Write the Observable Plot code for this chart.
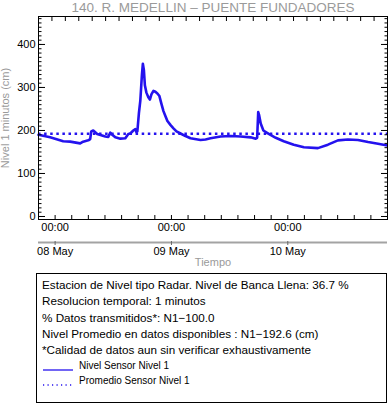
<!DOCTYPE html>
<html><head><meta charset="utf-8">
<script src="https://cdn.jsdelivr.net/npm/d3@7"></script>
<script src="https://cdn.jsdelivr.net/npm/@observablehq/plot@0.6"></script>
<style>
body{margin:0;background:#fff;font-family:"Liberation Sans",Arial,sans-serif;}
#wrap{position:relative;width:388px;height:404px;overflow:hidden;background:#fff;}
#chart{position:absolute;left:0;top:0;}
#legend{position:absolute;left:36px;top:273px;width:351px;height:130px;box-sizing:border-box;border:1px solid #000;padding:3px 0 0 5px;font-size:11.7px;color:#000;}
#legend .l{height:16.3px;line-height:16.3px;white-space:nowrap;}
#legend .k{height:15px;line-height:15px;font-size:10px;white-space:nowrap;position:relative;}
#legend .k svg{position:absolute;left:0;top:0;}
#legend .k span{position:absolute;left:37px;top:0;}
</style></head>
<body><div id="wrap"><div id="chart"></div><div id="legend"></div></div>
<script>
const title = "140. R. MEDELLIN – PUENTE FUNDADORES";
const xTitle = "Tiempo";
const yTitle = "Nivel 1 minutos (cm)";
const domainStart = "2023-05-07T20:34:17Z";
const domainEnd = "2023-05-10T20:34:17Z";
const dayTickTimes = ["2023-05-08T00:00Z", "2023-05-09T00:00Z", "2023-05-10T00:00Z"];
const yMajorTicks = [0, 100, 200, 300, 400];
const meanLevel = 192.6;

const times = [
  "2023-05-07T20:34Z","2023-05-07T22:58Z","2023-05-08T01:40Z","2023-05-08T03:06Z","2023-05-08T05:10Z",
  "2023-05-08T05:47Z","2023-05-08T06:50Z","2023-05-08T07:14Z","2023-05-08T07:27Z","2023-05-08T07:52Z",
  "2023-05-08T08:41Z","2023-05-08T10:21Z","2023-05-08T10:58Z","2023-05-08T11:23Z","2023-05-08T11:47Z",
  "2023-05-08T12:25Z","2023-05-08T13:27Z","2023-05-08T14:29Z","2023-05-08T15:06Z","2023-05-08T15:31Z",
  "2023-05-08T16:08Z","2023-05-08T16:33Z","2023-05-08T16:46Z","2023-05-08T16:58Z","2023-05-08T17:17Z",
  "2023-05-08T17:35Z","2023-05-08T17:54Z","2023-05-08T18:06Z","2023-05-08T18:19Z","2023-05-08T18:31Z",
  "2023-05-08T18:50Z","2023-05-08T19:14Z","2023-05-08T19:33Z","2023-05-08T19:52Z","2023-05-08T20:17Z",
  "2023-05-08T20:41Z","2023-05-08T21:06Z","2023-05-08T21:31Z","2023-05-08T21:56Z","2023-05-08T22:21Z",
  "2023-05-08T22:46Z","2023-05-08T23:10Z","2023-05-08T23:47Z","2023-05-09T00:25Z","2023-05-09T01:02Z",
  "2023-05-09T01:52Z","2023-05-09T02:54Z","2023-05-09T03:56Z","2023-05-09T06:00Z","2023-05-09T07:02Z",
  "2023-05-09T08:04Z","2023-05-09T10:08Z","2023-05-09T12:13Z","2023-05-09T14:17Z","2023-05-09T16:21Z",
  "2023-05-09T17:23Z","2023-05-09T17:41Z","2023-05-09T17:54Z","2023-05-09T18:06Z","2023-05-09T18:25Z",
  "2023-05-09T18:58Z","2023-05-09T20:04Z","2023-05-09T21:31Z","2023-05-09T23:10Z","2023-05-10T01:14Z",
  "2023-05-10T03:19Z","2023-05-10T06:13Z","2023-05-10T08:17Z","2023-05-10T10:21Z","2023-05-10T12:25Z",
  "2023-05-10T14:29Z","2023-05-10T16:34Z","2023-05-10T18:37Z","2023-05-10T20:34Z"
];
const levels = [
  190,184,175,174,170,
  174,177,180,198,200,
  192,186,185,195,190,
  184,181,182,192,193,
  200,203,196,198,240,
  270,328,355,340,305,
  288,277,272,284,292,
  290,286,280,262,245,
  233,222,213,205,198,
  193,187,182,178,179,
  182,186,187,186,184,
  181,183,243,235,216,
  200,192,183,175,167,
  161,159,167,177,179,
  178,173,169,165
];

const infoLines = [
  "Estacion de Nivel tipo Radar. Nivel de Banca Llena: 36.7 %",
  "Resolucion temporal: 1 minutos",
  "% Datos transmitidos*: N1\u2212100.0",
  "Nivel Promedio en datos disponibles : N1\u2212192.6 (cm)",
  "*Calidad de datos aun sin verificar exhaustivamente"
];
const seriesNames = ["Nivel Sensor Nivel 1", "Promedio Sensor Nivel 1"];

const blue = "#2412ee";
const parse = d3.isoParse;
const data = times.map((t, i) => ({t: parse(t), v: levels[i]}));
const x0 = parse(domainStart), x1 = parse(domainEnd);
const span = x1 - x0;
const bottomTicks = d3.range(22).map(k => new Date(+x0 + k * span / 21));
const topTicks = d3.range(27).map(k => new Date(+x0 + k * span / 26));
const dayTicks = dayTickTimes.map(parse);
const yMinor = d3.range(0, 461, 10);

const chart = Plot.plot({
  width: 388, height: 273,
  marginLeft: 38, marginRight: 1, marginTop: 16, marginBottom: 54,
  style: {fontFamily: "'Liberation Sans', Arial, sans-serif", fontSize: "11px", background: "transparent", overflow: "visible"},
  x: {type: "utc", domain: [x0, x1]},
  y: {domain: [-7, 465]},
  marks: [
    Plot.ruleY([meanLevel], {stroke: blue, strokeWidth: 2.5, strokeDasharray: "2.5,3.6"}),
    Plot.line(data, {x: "t", y: "v", stroke: blue, strokeWidth: 2.6, strokeLinejoin: "round"}),
    Plot.frame({stroke: "#000"}),
    Plot.axisY({anchor: "left", ticks: yMinor, tickSize: -3.5, fill: "none", label: null}),
    Plot.axisY({anchor: "left", ticks: yMajorTicks, tickSize: -7, fill: "none", label: null}),
    Plot.axisY({anchor: "left", ticks: yMajorTicks, tickSize: 0, tickPadding: 3, fill: "#000", label: null}),
    Plot.axisY({anchor: "right", ticks: yMinor, tickSize: -3.5, fill: "none", label: null}),
    Plot.axisY({anchor: "right", ticks: yMajorTicks, tickSize: -7, fill: "none", label: null}),
    Plot.axisX({anchor: "top", ticks: topTicks, tickSize: -4, fill: "none", label: null}),
    Plot.axisX({anchor: "bottom", ticks: bottomTicks, tickSize: -4, fill: "none", label: null}),
    Plot.axisX({anchor: "bottom", ticks: dayTicks, tickSize: 0, tickPadding: 4, tickFormat: "%H:%M", fill: "#000", label: null}),
    Plot.ruleY([-7], {stroke: "#a3a3a3", strokeWidth: 2, dy: 23}),
    Plot.axisX({anchor: "bottom", ticks: dayTicks, tickSize: 4, tickPadding: 2, dy: 22, tickFormat: "%d %b", stroke: "#666", fill: "#000", label: null}),
    Plot.text([xTitle], {text: d => d, frameAnchor: "bottom", dy: 46, fill: "#9a9a9a", fontSize: 11}),
    Plot.text([yTitle], {text: d => d, frameAnchor: "left", textAnchor: "middle", dx: -33, rotate: -90, fill: "#9a9a9a", fontSize: 11}),
    Plot.text([title], {text: d => d, frameAnchor: "top", textAnchor: "middle", lineAnchor: "middle", dy: -9, fill: "#9a9a9a", fontSize: 13.5})
  ]
});
document.getElementById("chart").appendChild(chart);

const legend = document.getElementById("legend");
infoLines.forEach(s => {
  const d = document.createElement("div");
  d.className = "l";
  d.textContent = s;
  legend.appendChild(d);
});
seriesNames.forEach((s, i) => {
  const d = document.createElement("div");
  d.className = "k";
  const dash = i === 0 ? "" : ` stroke-dasharray="1.2,3.3"`;
  d.innerHTML = `<svg width="34" height="15"><line x1="1" x2="31" y1="12" y2="12" stroke="${blue}" stroke-width="1.3"${dash}/></svg><span></span>`;
  d.querySelector("span").textContent = s;
  legend.appendChild(d);
});
</script>
</body></html>
